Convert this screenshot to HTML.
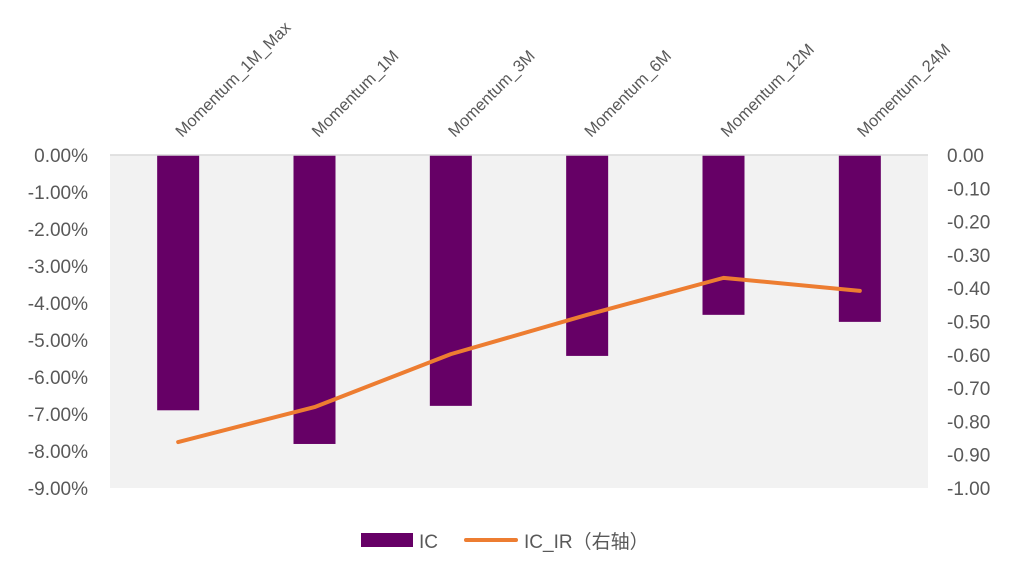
<!DOCTYPE html>
<html><head><meta charset="utf-8"><style>
body{margin:0;background:#fff;}
svg text{font-family:"Liberation Sans","Noto Sans CJK SC",sans-serif;}
</style></head><body>
<svg id="c" width="1020" height="567" xmlns="http://www.w3.org/2000/svg"></svg>
<script>
const categories=["Momentum_1M_Max","Momentum_1M","Momentum_3M","Momentum_6M","Momentum_12M","Momentum_24M"];
const icValues=[-6.9,-7.81,-6.78,-5.43,-4.32,-4.51];
const icirValues=[-0.862,-0.757,-0.598,-0.48,-0.369,-0.408];
const leftTicks=["0.00%","-1.00%","-2.00%","-3.00%","-4.00%","-5.00%","-6.00%","-7.00%","-8.00%","-9.00%"];
const rightTicks=["0.00","-0.10","-0.20","-0.30","-0.40","-0.50","-0.60","-0.70","-0.80","-0.90","-1.00"];
const NS="http://www.w3.org/2000/svg";
const svg=document.getElementById('c');
const X0=110,X1=928,Y0=155,Y1=488;
function yL(v){return Y0+(-v)/9*(Y1-Y0);}
function yR(v){return Y0+(-v)/1*(Y1-Y0);}
const step=(X1-X0)/categories.length;
function xC(i){return X0+step*(i+0.5);}
function mk(t,a){const e=document.createElementNS(NS,t);for(const k in a)e.setAttribute(k,a[k]);svg.appendChild(e);return e;}
const bg=mk('rect',{x:X0,y:Y0,width:X1-X0,height:Y1-Y0,fill:'#f2f2f2'});


leftTicks.forEach((t,i)=>{const e=mk('text',{x:88,y:Y0+i*37+7,'text-anchor':'end','font-size':19,fill:'#595959'});e.textContent=t;

});
rightTicks.forEach((t,i)=>{const e=mk('text',{x:947,y:Y0+i*(Y1-Y0)/10+7,'font-size':19,fill:'#595959'});e.textContent=t;

});
categories.forEach((c,i)=>{const b=mk('rect',{x:xC(i)-21,y:Y0,width:42,height:yL(icValues[i])-Y0,fill:'#660066'});


const t=mk('text',{x:xC(i)+4,y:138,'font-size':16.5,fill:'#595959',transform:`rotate(-45 ${xC(i)+4} 138)`});t.textContent=c;

});
const zl=mk('line',{x1:X0,x2:X1,y1:Y0,y2:Y0,stroke:'#d9d9d9','stroke-width':1.5});


const ln=mk('polyline',{points:icirValues.map((v,i)=>xC(i)+','+yR(v)).join(' '),fill:'none',stroke:'#ed7d31','stroke-width':4,'stroke-linecap':'round','stroke-linejoin':'round'});


const l1=mk('rect',{x:361,y:533,width:52,height:14,fill:'#660066'});


const lt1=mk('text',{x:419,y:548,'font-size':19,fill:'#595959'});lt1.textContent='IC';


const l2=mk('line',{x1:466,x2:516,y1:540,y2:540,stroke:'#ed7d31','stroke-width':4,'stroke-linecap':'round'});


const lt2=mk('text',{x:524,y:548,'font-size':19,fill:'#595959'});lt2.textContent='IC_IR（右轴）';


</script>
</body></html>
